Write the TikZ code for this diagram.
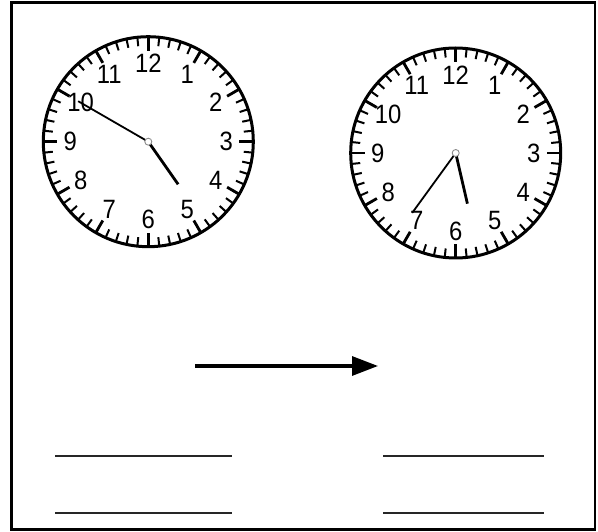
\documentclass[tikz,border=0pt]{standalone}
\usepackage{fontspec}
\setmainfont{Liberation Sans}
\newfontfamily\dialfont[FakeStretch=0.9]{Liberation Sans}
\usetikzlibrary{arrows.meta,calc}

\begin{document}
\begin{tikzpicture}[
    x=1pt, y=1pt,
    frame/.style={draw, line width=2.5pt},
    dial/.style={circle, draw, line width=3pt, minimum size=210pt, inner sep=0pt},
    mintick/.style={line width=2pt},
    hourtick/.style={line width=2.8pt},
    num/.style={font=\dialfont\fontsize{26.5}{26.5}\selectfont, inner sep=0pt},
    hourhand/.style={line width=2.8pt},
    minhand/.style={line width=1.8pt},
    pivot/.style={circle, draw=black!45, fill=white, line width=0.9pt, minimum size=7pt, inner sep=0pt},
    answer/.style={line width=2.4pt, black!85},
    arr/.style={-{Triangle[length=26pt,width=19pt]}, line width=3.2pt}
  ]
    \useasboundingbox (0,0) rectangle (598,531);
    \draw[frame] (11.5,1.5) rectangle (595,528.5);

    % the two clocks: name/x/y/hour angle/minute angle/minute hand length
    \foreach \c/\x/\y/\h/\m/\len in {L/148.3/389.3/-55/150/81, R/455.7/378/-77/-126/74}{
      \node[dial] (clock\c) at (\x,\y) {};
      \foreach \t in {0,...,59}
        \draw[mintick] (clock\c.center) ++(\t*6:105) -- ++(\t*6:-9);
      \foreach \t in {0,...,11}
        \draw[hourtick] (clock\c.center) ++(\t*30:105) -- ++(\t*30:-14);
      \foreach \n in {1,...,12}
        \node[num] (num\c\n) at ($(clock\c.center)+(90-\n*30:78)$) {\n};
      \draw[minhand] (clock\c.center) -- ++(\m:\len);
      \draw[hourhand] (clock\c.center) -- ++(\h:52);
      \node[pivot] (pivot\c) at (clock\c.center) {};
    }

    \coordinate (arrowstart) at (195,165);
    \coordinate (arrowend) at (378,165);
    \draw[arr] (arrowstart) -- (arrowend);

    % answer lines
    \draw[answer] (55,75) -- (232,75);
    \draw[answer] (55,18) -- (232,18);
    \draw[answer] (383,75) -- (544,75);
    \draw[answer] (383,18) -- (544,18);
  \end{tikzpicture}
\end{document}
